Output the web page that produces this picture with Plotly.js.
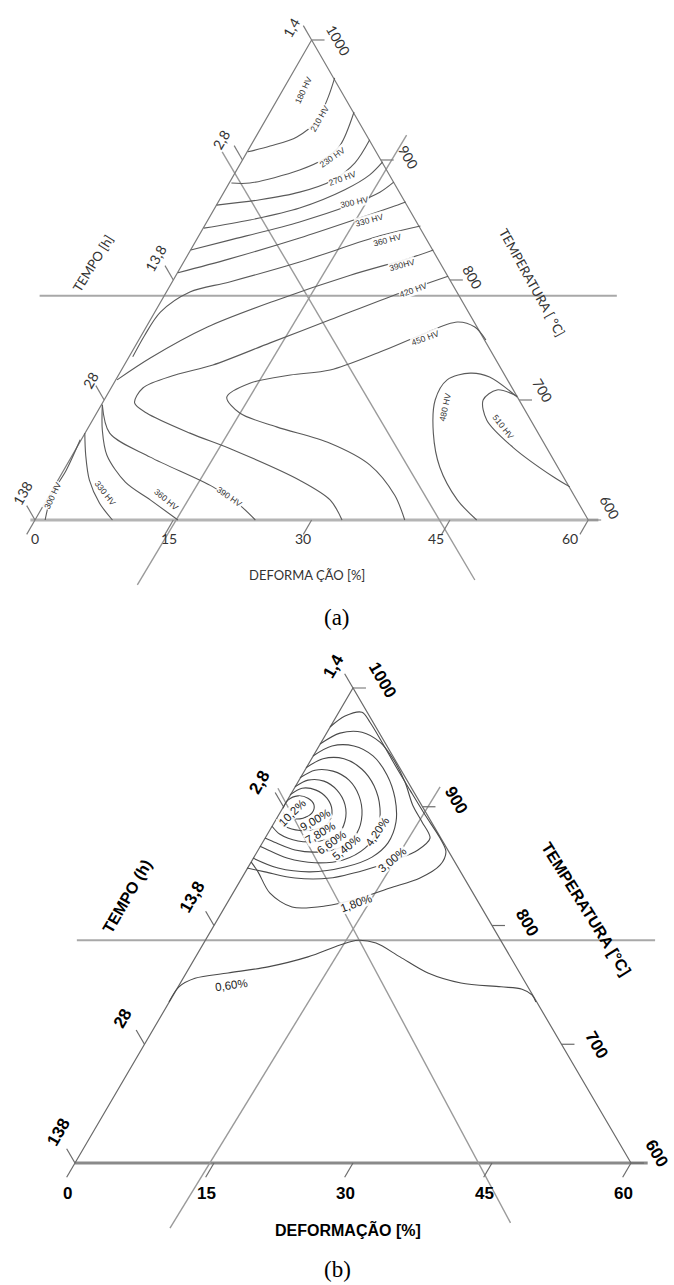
<!DOCTYPE html>
<html>
<head>
<meta charset="utf-8">
<script src="https://cdn.plot.ly/plotly-3.0.1.min.js"></script>
<style>
html, body { margin: 0; padding: 0; background: #fff; }
#chart { width: 674px; height: 1285px; }
</style>
</head>
<body>
<div id="chart"></div>
<script>
// axis levels, same for both diagrams (apex -> corners)
var deformTicks = [0, 15, 30, 45, 60];
var tempoTicks = ['1,4', '2,8', '13,8', '28', '138'];
var tempTicks = ['1000', '900', '800', '700', '600'];

// (a) dureza HV  -- points are [deformacao %, relative height in triangle]
var hv180 = [[23.1,.767],[25.5,.779],[28.4,.798],[30.6,.833],[31.8,.881],[32.5,.921]];
var hv210 = [[21.3,.702],[23.3,.702],[28.7,.729],[31.5,.754],[33.1,.781],[34.6,.85]];
var hv230 = [[19.7,.656],[24.4,.667],[28.7,.683],[32.3,.708],[34.7,.744],[36.3,.792]];
var hv270 = [[18.3,.608],[23.3,.625],[28.7,.65],[33.6,.688],[36.3,.719],[37.7,.746]];
var hv300 = [[16.9,.5625],[21.1,.583],[28.7,.621],[34.2,.656],[37.4,.683],[38.9,.704]];
var hv330 = [[15.5,.515],[21.1,.544],[28.7,.5875],[35.2,.629],[38.7,.652],[40.2,.6625]];
var hv360 = [[10.6,.34],[11.9,.385],[13.6,.433],[16.8,.475],[21.1,.496],[28.7,.5375],[37.4,.592],[41.8,.6125]];
var hv390 = [[8.9,.292],[12.5,.3375],[18.7,.402],[26.2,.458],[34.2,.51],[40.7,.546],[43.2,.5625]];
var hv420 = [[33.3,0],[32,.042],[28.7,.083],[21.5,.146],[16.8,.181],[12.1,.223],[10.8,.244],[11.7,.275],
             [15.2,.302],[19.3,.323],[25.5,.369],[32.0,.417],[39.6,.473],[44.8,.508]];
var hv450 = [[40.1,0],[39.0,.052],[36.3,.115],[32,.16],[26.2,.194],[22.2,.223],[20.8,.256],[23.3,.285],
             [27.7,.302],[32.0,.3125],[37.4,.35],[41.8,.385],[45.8,.4125],[47.7,.402],[48.9,.375]];
var hv480 = [[52.3,.256],[49.3,.298],[47.2,.306],[44.7,.292],[43.4,.25],[43.2,.181],[43.9,.11],[45.8,.042],[47.9,0]];
var hv510 = [[52.3,.258],[50.1,.271],[48.6,.25],[49.0,.208],[51.8,.152],[56.2,.09],[58.0,.069]];
var hv300low = [[4.9,.167],[3.4,.104],[1.8,.052],[1.1,0]];
var hv330low = [[5.4,.181],[5.5,.135],[5.9,.083],[7.0,.035],[8.4,0]];
var hv360low = [[7.3,.24],[7.3,.1875],[7.8,.135],[9.8,.079],[12.5,.042],[15.5,0]];
var hv390low = [[7.3,.24],[8.1,.181],[12.5,.131],[19.3,.069],[22.2,.031],[23.9,0]];

// (b) percentual de fase
var pc102 = [[22.45,.747],[22.98,.764],[24.06,.773],[25.14,.768],[25.79,.754],[25.58,.737],[24.60,.726],[23.31,.726],[22.45,.737]];
var pc90 = [[23.20,.775],[24.50,.789],[26.01,.785],[27.19,.768],[27.73,.743],[27.41,.718],[26.11,.703],[24.28,.70],[22.66,.709],[21.80,.726]];
var pc78 = [[23.74,.792],[25.14,.806],[26.87,.804],[28.27,.785],[29.14,.754],[29.14,.720],[28.27,.689],[26.44,.678],[24.06,.678],[22.12,.692],[21.26,.709]];
var pc66 = [[24.28,.811],[25.90,.827],[27.84,.825],[29.57,.806],[30.65,.773],[30.97,.733],[30.43,.695],[28.92,.667],[26.44,.655],[23.74,.659],[21.69,.674],[20.50,.684]];
var pc54 = [[24.93,.832],[26.76,.851],[29.03,.851],[30.97,.829],[32.27,.794],[32.91,.747],[32.59,.697],[31.30,.663],[28.92,.638],[25.90,.632],[22.88,.642],[20.61,.661],[19.96,.667]];
var pc42 = [[25.68,.857],[27.73,.878],[30.10,.878],[32.16,.857],[33.67,.817],[34.53,.768],[34.64,.718],[33.78,.674],[32.05,.644],[29.14,.623],[25.36,.613],[21.91,.621],[19.21,.642]];
var pc30 = [[26.44,.882],[28.60,.905],[30.97,.907],[32.91,.886],[34.42,.848],[35.61,.802],[36.47,.752],[37.45,.718],[38.31,.684],[37.01,.659],[34.53,.638],[31.30,.617],[27.52,.60],[23.74,.60],[20.50,.613],[18.56,.621]];
var pc18 = [[27.52,.918],[29.14,.941],[30.97,.949],[31.83,.928],[33.13,.886],[34.53,.838],[36.15,.785],[37.77,.733],[39.39,.684],[40.03,.655],[39.39,.627],[37.23,.60],[33.99,.579],[30.75,.558],[26.98,.541],[23.42,.539],[21.04,.568],[19.75,.613],[19.0,.634]];
var pc06 = [[10.14,.339],[11.22,.371],[12.95,.389],[16.51,.40],[20.83,.413],[25.14,.434],[28.60,.459],[30.54,.469],[32.48,.463],[35.07,.434],[38.09,.40],[41.65,.379],[45.97,.371],[48.24,.366],[49.31,.354],[49.74,.339]];

var contoursA = [
  {pts: hv180, text: '180 HV', at: [29.1, .896, -65]},
  {pts: hv210, text: '210 HV', at: [30.9, .8375, -60]},
  {pts: hv230, text: '230 HV', at: [32.3, .756, -35]},
  {pts: hv270, text: '270 HV', at: [33.4, .7125, -20]},
  {pts: hv300, text: '300 HV', at: [34.7, .6625, -12]},
  {pts: hv330, text: '330 HV', at: [36.3, .625, -15]},
  {pts: hv360, text: '360 HV', at: [38.2, .583, -15]},
  {pts: hv390, text: '390HV', at: [39.8, .531, -15]},
  {pts: hv420, text: '420 HV', at: [41.0, .479, -20]},
  {pts: hv450, text: '450 HV', at: [42.3, .379, -20]},
  {pts: hv480, text: '480 HV', at: [44.5, .235, -78]},
  {pts: hv510, text: '510 HV', at: [50.8, .194, 52]},
  {pts: hv300low, text: '300 HV', at: [1.95, .052, -65]},
  {pts: hv330low, text: '330 HV', at: [7.6, .056, 52]},
  {pts: hv360low, text: '360 HV', at: [14.3, .042, 40]},
  {pts: hv390low, text: '390 HV', at: [21.1, .048, 35]}
];
var contoursB = [
  {pts: pc102, text: '10,2%', at: [23.42, .737, -45]},
  {pts: pc90, text: '9,00%', at: [25.90, .722, -30]},
  {pts: pc78, text: '7,80%', at: [26.44, .695, -30]},
  {pts: pc66, text: '6,60%', at: [27.73, .676, -35]},
  {pts: pc54, text: '5,40%', at: [29.35, .665, -40]},
  {pts: pc42, text: '4,20%', at: [32.59, .697, -55]},
  {pts: pc30, text: '3,00%', at: [34.21, .638, -40]},
  {pts: pc18, text: '1,80%', at: [30.43, .547, -20]},
  {pts: pc06, text: '0,60%', at: [16.94, .375, -8]}
];

var traces = [];
var annotations = [];

function addLine(pts, sub, color, width, smooth) {
  traces.push({
    type: 'scatter', mode: 'lines',
    x: pts.map(function (p) { return p[0]; }),
    y: pts.map(function (p) { return p[1]; }),
    xaxis: 'x' + sub, yaxis: 'y' + sub,
    hoverinfo: 'skip', showlegend: false,
    line: {color: color, width: width, shape: smooth ? 'spline' : 'linear', smoothing: 0.9}
  });
}

function addText(sub, x, y, text, font, angle, dx, dy, bg) {
  annotations.push({
    xref: 'x' + sub, yref: 'y' + sub, x: x, y: y, text: text, showarrow: false,
    textangle: angle || 0, xshift: dx || 0, yshift: dy || 0, font: font,
    bgcolor: bg || 'rgba(0,0,0,0)', borderpad: 0
  });
}

function drawPanel(sub, cfg) {
  // guide lines through the central point
  addLine(cfg.base, sub, cfg.thick, cfg.baseWidth, false);
  addLine(cfg.horiz, sub, '#a8a8a8', 2, false);
  addLine(cfg.guideA, sub, '#9a9a9a', 1.4, false);
  addLine(cfg.guideB, sub, '#9a9a9a', 1.4, false);
  // triangle sides
  addLine([[0, 0], [30, 1], [60, 0]], sub, cfg.edge, 1.2, false);

  // ticks on the three sides
  var tx = [], ty = [];
  for (var i = 0; i < 5; i++) {
    var h = 1 - i / 4;
    tx.push(30 * h, 30 * h - 0.9, null, 60 - 30 * h, 60 - 30 * h + 1.4, null, deformTicks[i], deformTicks[i] - 0.9, null);
    ty.push(h, h + 0.03, null, h, h, null, 0, -0.03, null);
    addText(sub, 30 * h, h, tempoTicks[i], cfg.tickFont, -60, cfg.leftOff[i][0], cfg.leftOff[i][1]);
    addText(sub, 60 - 30 * h, h, tempTicks[i], cfg.tickFont, 60, cfg.rightOff[i][0], cfg.rightOff[i][1]);
    addText(sub, deformTicks[i], 0, String(deformTicks[i]), cfg.tickFont, 0, cfg.baseOff(deformTicks[i]), cfg.baseDy);
  }
  traces.push({type: 'scatter', mode: 'lines', x: tx, y: ty, xaxis: 'x' + sub, yaxis: 'y' + sub,
    hoverinfo: 'skip', showlegend: false, line: {color: cfg.edge, width: 1.2}});

  cfg.contours.forEach(function (c) {
    addLine(c.pts, sub, cfg.contourColor, 1.1, true);
    addText(sub, c.at[0], c.at[1], c.text, cfg.labelFont, c.at[2], 0, 0, 'rgba(255,255,255,0.9)');
  });

  addText(sub, cfg.tempo[0], cfg.tempo[1], cfg.tempo[2], cfg.titleFont, cfg.tempo[3]);
  addText(sub, cfg.temp[0], cfg.temp[1], cfg.temp[2], cfg.titleFont, cfg.temp[3]);
  addText(sub, cfg.deform[0], cfg.deform[1], cfg.deform[2], cfg.titleFont, 0);
}

drawPanel('', {
  base: [[-0.5, 0], [61.1, 0]], horiz: [[0.5, .467], [63.1, .467]],
  guideA: [[40.3, .802], [11.1, -.135]], guideB: [[20.3, .767], [47.7, -.125]],
  thick: '#b4b4b4', baseWidth: 3, edge: '#7c7c7c', contourColor: '#5a5a5a',
  contours: contoursA,
  tickFont: {family: 'Lato, Liberation Sans, sans-serif', size: 14, color: '#333'},
  labelFont: {family: 'Liberation Sans, sans-serif', size: 8.5, color: '#333'},
  titleFont: {family: 'Lato, Liberation Sans, sans-serif', size: 13, color: '#333'},
  leftOff: [[-20, 12], [-21, 20], [-17, 22], [-14, 20], [-13, 27]],
  rightOff: [[26, 0], [27, 3], [22, 3], [24, 10], [22, 13]],
  baseOff: function (v) { return -0.3 * v; }, baseDy: -18,
  tempo: [6.3, .535, 'TEMPO [h]', -58],
  temp: [53.9, .496, 'TEMPERATURA [ °C]', 61],
  deform: [29.5, -.115, 'DEFORMA ÇÃO [%]']
});

drawPanel('2', {
  base: [[0, 0], [61.8, 0]], horiz: [[0.2, .469], [62.6, .469]],
  guideA: [[39.4, .792], [10.25, -.137]], guideB: [[21.9, .789], [47.0, -.126]],
  thick: '#8a8a8a', baseWidth: 3, edge: '#6a6a6a', contourColor: '#4a4a4a',
  contours: contoursB,
  tickFont: {family: 'Liberation Sans Narrow, Liberation Sans, sans-serif', size: 17, color: '#000', weight: 'bold'},
  labelFont: {family: 'Liberation Sans, sans-serif', size: 11.5, color: '#222'},
  titleFont: {family: 'Liberation Sans Narrow, Liberation Sans, sans-serif', size: 16, color: '#000', weight: 'bold'},
  leftOff: [[-20, 22], [-24, 24], [-22, 28], [-22, 26], [-17, 31]],
  rightOff: [[30, 8], [33, 7], [35, 3], [35, 0], [26, 10]],
  baseOff: function (v) { return -8; }, baseDy: -30,
  tempo: [5.6, .562, 'TEMPO (h)', -60],
  temp: [55.1, .535, 'TEMPERATURA [°C]', 58],
  deform: [29.5, -.141, 'DEFORMAÇÃO [%]']
});

annotations.push({xref: 'paper', yref: 'paper', x: 0.5, y: 0.5198, yanchor: 'middle', text: '(a)', showarrow: false,
  font: {family: 'Liberation Serif, serif', size: 23, color: '#000'}});
annotations.push({xref: 'paper', yref: 'paper', x: 0.5, y: 0.0117, yanchor: 'middle', text: '(b)', showarrow: false,
  font: {family: 'Liberation Serif, serif', size: 23, color: '#000'}});

var layout = {
  width: 674, height: 1285,
  margin: {l: 0, r: 0, t: 0, b: 0},
  paper_bgcolor: '#fff', plot_bgcolor: '#fff',
  showlegend: false,
  xaxis: {domain: [0, 1], range: [-3.796, 69.30], visible: false, fixedrange: true},
  yaxis: {domain: [0.5, 1], range: [-0.2552, 1.0833], visible: false, fixedrange: true},
  xaxis2: {domain: [0, 1], range: [-8.093, 64.64], visible: false, anchor: 'y2', fixedrange: true},
  yaxis2: {domain: [0, 0.5], range: [-0.2568, 1.0958], visible: false, anchor: 'x2', fixedrange: true},
  annotations: annotations
};

Plotly.newPlot('chart', traces, layout, {staticPlot: true});
</script>
</body>
</html>
